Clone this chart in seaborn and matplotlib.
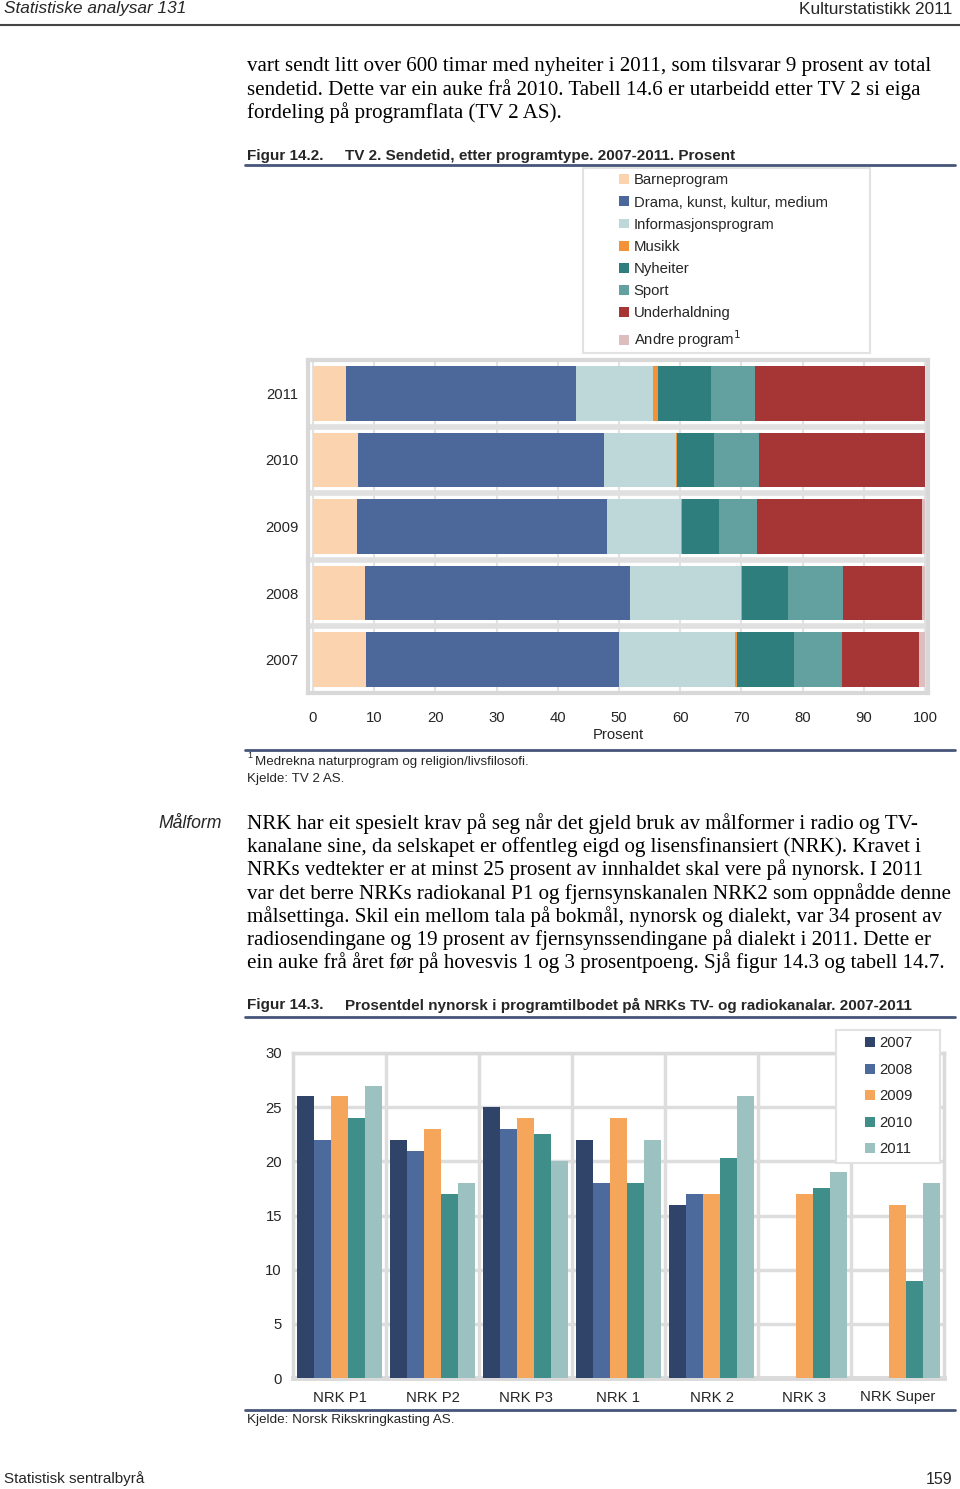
import numpy as np
import pandas as pd
import matplotlib
matplotlib.use("Agg")
import matplotlib.pyplot as plt
import seaborn as sns
from matplotlib.patches import Patch, Rectangle
from matplotlib.lines import Line2D

# ---- data: figur 14.2 (TV 2 sendetid, prosent) ----
years = ["2011", "2010", "2009", "2008", "2007"]
prog_types = ["Barneprogram", "Drama, kunst, kultur, medium", "Informasjonsprogram",
              "Musikk", "Nyheiter", "Sport", "Underhaldning", "Andre program$^1$"]
barne = [5.4, 7.3, 7.2, 8.5, 8.7]
drama = [37.6, 40.2, 40.8, 43.3, 41.3]
info = [12.6, 11.8, 12.1, 18.1, 19.0]
musikk = [0.8, 0.2, 0.2, 0.2, 0.3]
nyheiter = [8.7, 6.1, 6.0, 7.5, 9.3]
sport = [7.2, 7.3, 6.2, 9.0, 7.8]
underh = [27.7, 27.1, 27.1, 12.9, 12.6]
andre = [0.0, 0.0, 0.4, 0.5, 1.0]
prog_colors = ["#FBD3AE", "#4C689B", "#BED8D9", "#F39237",
               "#2F7E7E", "#63A0A0", "#A63535", "#DDBDBD"]

# ---- data: figur 14.3 (prosentdel nynorsk) ----
channels = ["NRK P1", "NRK P2", "NRK P3", "NRK 1", "NRK 2", "NRK 3", "NRK Super"]
share_2007 = [26, 22, 25, 22, 16, np.nan, np.nan]
share_2008 = [22, 21, 23, 18, 17, np.nan, np.nan]
share_2009 = [26, 23, 24, 24, 17, 17, 16]
share_2010 = [24, 17, 22.5, 18, 20.3, 17.5, 9]
share_2011 = [27, 18, 20, 22, 26, 19, 18]
year_colors = ["#2F4468", "#4D6A9D", "#F6A65B", "#3F8E8A", "#9CC1C1"]

para1 = [
    "vart sendt litt over 600 timar med nyheiter i 2011, som tilsvarar 9 prosent av total",
    "sendetid. Dette var ein auke frå 2010. Tabell 14.6 er utarbeidd etter TV 2 si eiga",
    "fordeling på programflata (TV 2 AS).",
]
para2 = [
    "NRK har eit spesielt krav på seg når det gjeld bruk av målformer i radio og TV-",
    "kanalane sine, da selskapet er offentleg eigd og lisensfinansiert (NRK). Kravet i",
    "NRKs vedtekter er at minst 25 prosent av innhaldet skal vere på nynorsk. I 2011",
    "var det berre NRKs radiokanal P1 og fjernsynskanalen NRK2 som oppnådde denne",
    "målsettinga. Skil ein mellom tala på bokmål, nynorsk og dialekt, var 34 prosent av",
    "radiosendingane og 19 prosent av fjernsynssendingane på dialekt i 2011. Dette er",
    "ein auke frå året før på hovesvis 1 og 3 prosentpoeng. Sjå figur 14.3 og tabell 14.7.",
]

sns.set_style("white")
plt.rcParams["font.family"] = ["Liberation Sans", "DejaVu Sans"]

W, H = 960, 1489
fig = plt.figure(figsize=(W / 100, H / 100), dpi=100)
fig.patch.set_facecolor("white")


def fx(x):
    return x / W


def fy(y):
    return 1 - y / H


def px_axes(x0, y0, x1, y1):
    return fig.add_axes([fx(x0), fy(y1), fx(x1 - x0), (y1 - y0) / H])


def hrule(y, x0=245, x1=955, color="#46557A", lw=2.0):
    fig.add_artist(Line2D([fx(x0), fx(x1)], [fy(y), fy(y)], color=color, lw=lw))


def serif_lines(lines, y0, step, x=247):
    for i, line in enumerate(lines):
        fig.text(fx(x), fy(y0 + i * step), line, family=["Liberation Serif"],
                 fontsize=15.1, va="center", ha="left", color="black")


# ---- page header ----
fig.text(fx(4), fy(9), "Statistiske analysar 131", style="italic", fontsize=12.4, va="center")
fig.text(fx(952), fy(9), "Kulturstatistikk 2011", fontsize=12.4, va="center", ha="right")
hrule(25, 0, 960, color="#444444", lw=1.5)

serif_lines(para1, 66, 23.5)

# ---- figur 14.2 ----
fig.text(fx(247), fy(156), "Figur 14.2.", fontsize=11, weight="bold", va="center")
fig.text(fx(345), fy(156), "TV 2. Sendetid, etter programtype. 2007-2011. Prosent",
         fontsize=11, weight="bold", va="center")
hrule(165)

ax1 = px_axes(308, 360, 928, 693)
df1 = pd.DataFrame({"year": years, "Barneprogram": barne, "Drama": drama, "Info": info,
                    "Musikk": musikk, "Nyheiter": nyheiter, "Sport": sport,
                    "Underhaldning": underh, "Andre": andre})
parts = ["Barneprogram", "Drama", "Info", "Musikk", "Nyheiter", "Sport", "Underhaldning", "Andre"]
cum = df1[parts].cumsum(axis=1)
# overlap cumulative bars from the right so they read as a stack
for part, col in reversed(list(zip(parts, prog_colors))):
    sns.barplot(x=cum[part], y=df1["year"], color=col, saturation=1, orient="h",
                width=0.82, ax=ax1, zorder=3, edgecolor="none", linewidth=0)
ax1.set_xlim(-0.82, 100.5)
ax1.set_ylim(4.5, -0.5)
ax1.set_xticks(range(0, 101, 10))
ax1.xaxis.grid(True, color="#E2E2E2", lw=1.5, zorder=0)
for b in np.arange(0.5, 4.5, 1):
    ax1.axhline(b, color="#E0E0E0", lw=4, zorder=1)
for s in ax1.spines.values():
    s.set_color("#D8D8D8")
    s.set_linewidth(3)
ax1.tick_params(axis="both", length=0, labelsize=10.7)
ax1.tick_params(axis="x", pad=13)
ax1.tick_params(axis="y", pad=7)
ax1.set_ylabel("")
ax1.set_xlabel("Prosent", fontsize=10.7, labelpad=2)

fig.patches.append(Rectangle((fx(583), fy(353)), fx(870 - 583), (353 - 168) / H,
                             transform=fig.transFigure, facecolor="white",
                             edgecolor="#E2E2E2", lw=1.5, zorder=1))
handles1 = [Patch(facecolor=c, edgecolor="none") for c in prog_colors]
fig.legend(handles1, prog_types, loc="upper left", bbox_to_anchor=(fx(609), fy(163)),
           frameon=False, fontsize=10.7, handlelength=0.65, handleheight=0.65,
           handletextpad=0.3, labelspacing=0.55, borderpad=0.2)

hrule(750)
fig.text(fx(247), fy(756), "1", fontsize=6.5, va="center")
fig.text(fx(255), fy(762), "Medrekna naturprogram og religion/livsfilosofi.", fontsize=9.65, va="center")
fig.text(fx(247), fy(779), "Kjelde: TV 2 AS.", fontsize=9.65, va="center")

# ---- Målform text ----
fig.text(fx(158), fy(823), "Målform", style="italic", fontsize=12.7, va="center")
serif_lines(para2, 823.5, 23.2)

# ---- figur 14.3 ----
fig.text(fx(247), fy(1005), "Figur 14.3.", fontsize=11, weight="bold", va="center")
fig.text(fx(345), fy(1005),
         "Prosentdel nynorsk i programtilbodet på NRKs TV- og radiokanalar. 2007-2011",
         fontsize=11, weight="bold", va="center")
hrule(1017)

df2 = pd.DataFrame({"channel": channels, "2007": share_2007, "2008": share_2008,
                    "2009": share_2009, "2010": share_2010, "2011": share_2011})
long2 = df2.melt(id_vars="channel", var_name="year", value_name="share").dropna()

ax2 = px_axes(293, 1053, 944, 1378)
sns.barplot(data=long2, x="channel", y="share", hue="year", order=channels,
            hue_order=["2007", "2008", "2009", "2010", "2011"], palette=year_colors,
            saturation=1, width=0.92, ax=ax2, zorder=3, edgecolor="none", linewidth=0)
ax2.set_ylim(0, 30)
ax2.set_xlim(-0.5, len(channels) - 0.5)
ax2.set_yticks(range(0, 31, 5))
ax2.yaxis.grid(True, color="#DDDDDD", lw=2.5, zorder=0)
for b in np.arange(0.5, len(channels) - 0.5, 1):
    ax2.axvline(b, color="#DDDDDD", lw=2.5, zorder=0)
for s in ax2.spines.values():
    s.set_color("#DADADA")
    s.set_linewidth(2.5)
ax2.spines["bottom"].set_linewidth(3.5)
ax2.tick_params(axis="both", length=0, labelsize=10.7)
ax2.tick_params(axis="x", pad=9)
ax2.tick_params(axis="y", pad=8)
ax2.set_xlabel("")
ax2.set_ylabel("")
ax2.get_legend().remove()

fig.patches.append(Rectangle((fx(836), fy(1163)), fx(940 - 836), (1163 - 1030) / H,
                             transform=fig.transFigure, facecolor="white",
                             edgecolor="#E2E2E2", lw=1.5, zorder=5))
handles2 = [Patch(facecolor=c, edgecolor="none") for c in year_colors]
leg2 = fig.legend(handles2, ["2007", "2008", "2009", "2010", "2011"], loc="upper left",
                  bbox_to_anchor=(fx(855), fy(1026)), frameon=False, fontsize=10.7,
                  handlelength=0.65, handleheight=0.65, handletextpad=0.3,
                  labelspacing=0.84, borderpad=0.2)
leg2.set_zorder(6)

hrule(1410)
fig.text(fx(247), fy(1420), "Kjelde: Norsk Rikskringkasting AS.", fontsize=9.7, va="center")

# ---- page footer ----
fig.text(fx(4), fy(1479), "Statistisk sentralbyrå", fontsize=11, va="center")
fig.text(fx(952), fy(1479), "159", fontsize=11.5, va="center", ha="right")

fig.savefig("out.png", dpi=100)
